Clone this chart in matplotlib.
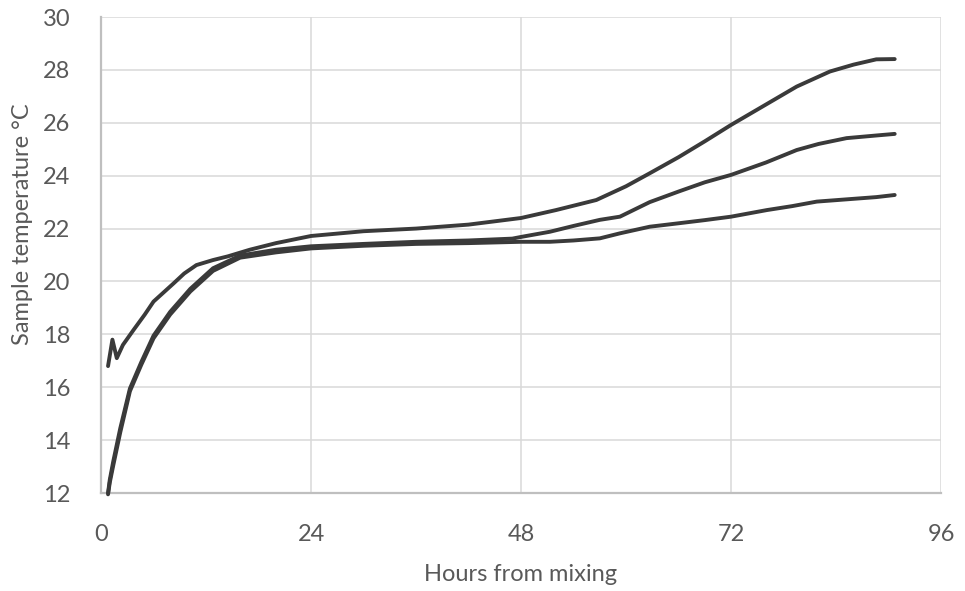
import matplotlib
matplotlib.use('Agg')
import matplotlib.pyplot as plt

# ─── Data ────────────────────────────────────────────────────
hours_a = [0.8, 1.3, 1.8, 2.5, 3.7, 5.0, 6.0, 7.2, 8.3, 9.5, 10.9, 12.8, 14.5,
           17, 20, 24, 30, 36, 42, 48, 52, 56.6, 60, 62.7, 66, 69, 72, 75,
           79.5, 83.3, 86, 88.6, 90.7]
temp_a = [16.8, 17.8, 17.1, 17.6, 18.16, 18.75, 19.24, 19.6, 19.93, 20.3, 20.62,
          20.81, 20.95, 21.2, 21.45, 21.72, 21.9, 22.0, 22.15, 22.4, 22.7, 23.08,
          23.6, 24.09, 24.7, 25.3, 25.92, 26.5, 27.37, 27.94, 28.2, 28.4, 28.41]

hours_b = [0.8, 1.0, 1.4, 2.2, 3.3, 4.6, 6.0, 7.9, 10.2, 12.8, 15.9, 20, 24, 30,
           36, 42, 47, 48.1, 51.3, 54, 57, 59.3, 62.7, 66, 69, 72, 76, 79.5, 82,
           85.2, 88.6, 90.7]
temp_b = [12.0, 12.5, 13.2, 14.45, 15.95, 16.95, 17.95, 18.85, 19.72, 20.5, 20.98,
          21.2, 21.33, 21.42, 21.5, 21.55, 21.62, 21.69, 21.88, 22.1, 22.33, 22.45,
          23.0, 23.4, 23.75, 24.03, 24.5, 24.97, 25.2, 25.42, 25.52, 25.58]

hours_c = [0.8, 1.0, 1.4, 2.2, 3.3, 4.6, 6.0, 7.9, 10.2, 12.8, 15.9, 20, 24, 30,
           36, 42, 48, 51.3, 54, 57, 59.3, 62.7, 66, 69, 72, 76.1, 79, 81.8, 85,
           88.6, 90.7]
temp_c = [11.95, 12.4, 13.05, 14.3, 15.85, 16.85, 17.85, 18.75, 19.62, 20.4, 20.9,
          21.1, 21.25, 21.35, 21.42, 21.45, 21.5, 21.5, 21.55, 21.63, 21.82, 22.07,
          22.2, 22.32, 22.45, 22.7, 22.85, 23.02, 23.1, 23.19, 23.27]

x_ticks = [0, 24, 48, 72, 96]
y_ticks = list(range(12, 31, 2))

# ─── Style ───────────────────────────────────────────────────
plt.rcParams['font.family'] = ['Lato', 'DejaVu Sans']
LINE_COLOR = '#3a3a3a'
GRID_COLOR = '#d9d9d9'
AXIS_COLOR = '#bfbfbf'
TEXT_COLOR = '#595959'

fig = plt.figure(figsize=(9.65, 5.91), dpi=100)
ax = fig.add_axes([0.1047, 0.1658, 0.8705, 0.8054])

for h, t in [(hours_a, temp_a), (hours_b, temp_b), (hours_c, temp_c)]:
    ax.plot(h, t, '-', color=LINE_COLOR, linewidth=2.8,
            solid_capstyle='round', zorder=3, clip_on=False)

ax.set_xlim(0, 96)
ax.set_ylim(12, 30)
ax.set_xticks(x_ticks)
ax.set_yticks(y_ticks)
ax.grid(True, color=GRID_COLOR, linewidth=1.1, zorder=0)
ax.set_axisbelow(True)

for side in ['top', 'right']:
    ax.spines[side].set_visible(False)
for side in ['left', 'bottom']:
    ax.spines[side].set_color(AXIS_COLOR)
    ax.spines[side].set_linewidth(1.6)

ax.tick_params(axis='both', length=0, labelsize=17, labelcolor=TEXT_COLOR)
ax.tick_params(axis='x', pad=22)
ax.tick_params(axis='y', pad=22)

ax.set_xlabel('Hours from mixing', fontsize=17, color=TEXT_COLOR, labelpad=14)
ax.set_ylabel('Sample temperature °C', fontsize=17, color=TEXT_COLOR, labelpad=6)
ax.yaxis.set_label_coords(-0.081, 0.565)

fig.savefig('out.png', dpi=100)
